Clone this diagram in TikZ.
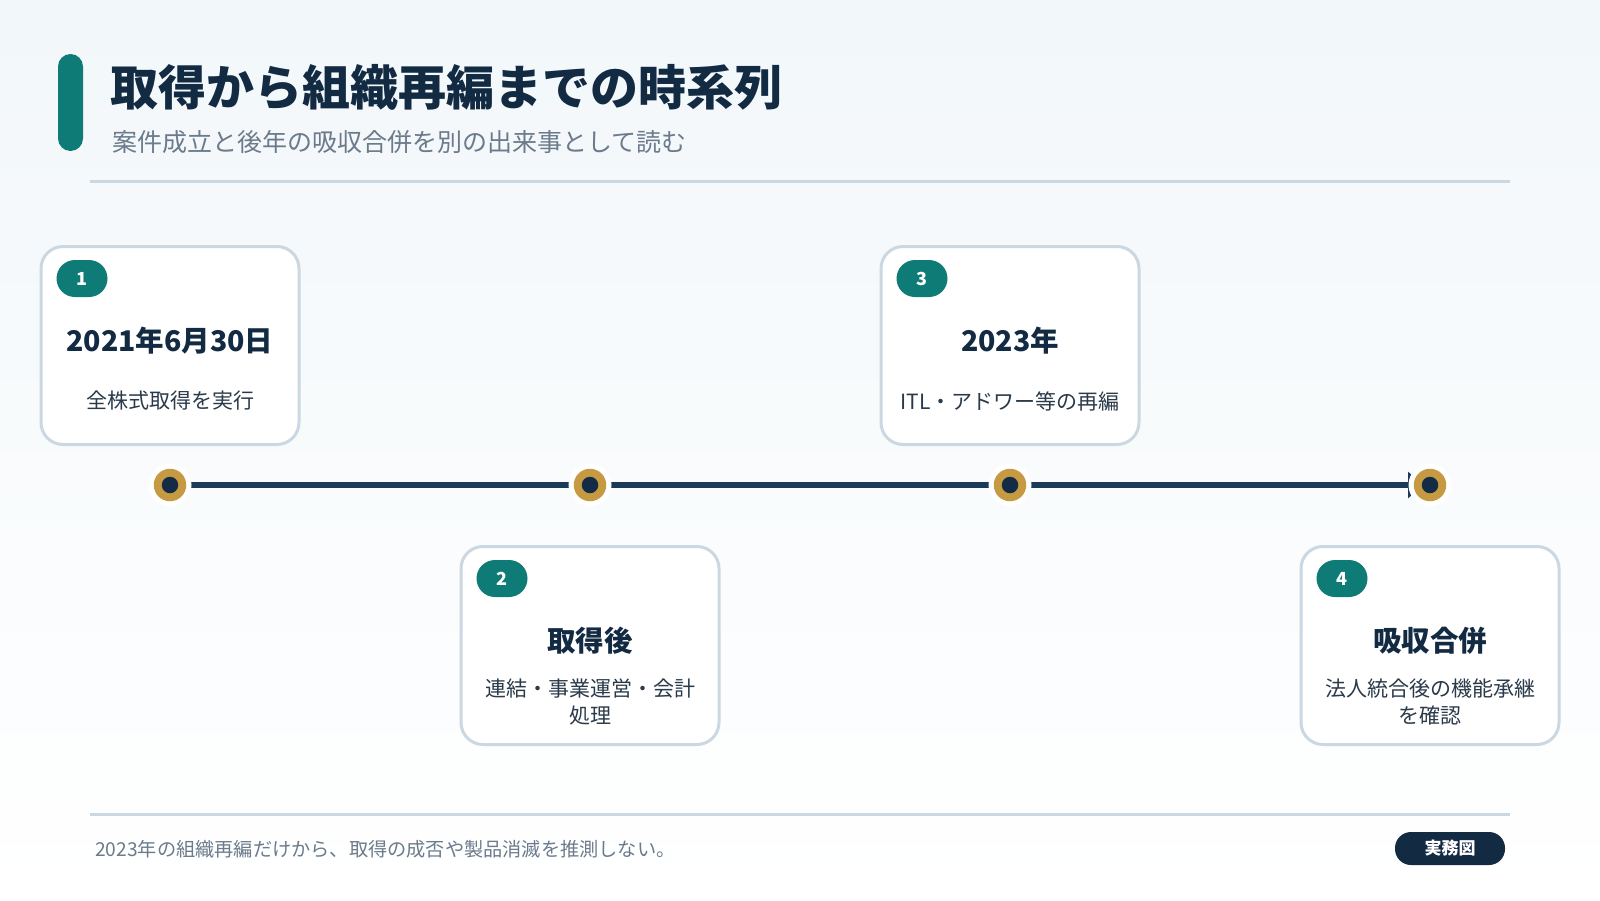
\documentclass[tikz,border=0pt]{standalone}
\usepackage{fontspec}
\setmainfont{Noto Sans CJK JP}
\usetikzlibrary{arrows.meta,calc}
\definecolor{navy}{HTML}{132A43}
\definecolor{linenavy}{HTML}{1B3A5A}
\definecolor{teal}{HTML}{0F7B76}
\definecolor{gold}{HTML}{C59A42}
\definecolor{dotnavy}{HTML}{142B45}
\definecolor{rule}{HTML}{CBD8E2}
\definecolor{subgray}{HTML}{6B7B8C}
\definecolor{desccol}{HTML}{2A3A4A}
\definecolor{bgtop}{HTML}{F2F7FA}
\begin{document}
\begin{tikzpicture}[x=1pt,y=-1pt,
  card/.style={draw=rule, line width=3pt, fill=white, rounded corners=22pt,
    minimum width=258pt, minimum height=198pt, inner sep=0pt},
  badge/.style={fill=teal, rounded corners=18.5pt, minimum width=51pt, minimum height=37pt,
    inner sep=0pt, text=white, font=\fontsize{18}{20}\selectfont\bfseries},
  ctitle/.style={text=navy, inner sep=0pt, font=\fontsize{28.5}{32}\selectfont\bfseries},
  cdesc/.style={text=desccol, inner sep=0pt, align=center, font=\fontsize{21}{26.5}\selectfont},
  halo/.style={circle, fill=white, minimum size=43pt, inner sep=0pt},
  golddot/.style={circle, fill=gold, minimum size=32.5pt, inner sep=0pt},
  navydot/.style={circle, fill=dotnavy, minimum size=16.5pt, inner sep=0pt},
  hrule/.style={draw=rule, line width=3pt},
]
% background
\shade[top color=bgtop, bottom color=white] (0,0) rectangle (1600,900);
\useasboundingbox (0,0) rectangle (1600,900);

% header
\node[fill=teal, rounded corners=12.5pt, minimum width=25pt, minimum height=97pt, inner sep=0pt] (accent) at (70.5,102.5) {};
\node[anchor=west, inner sep=0pt, text=navy, font=\fontsize{48}{56}\selectfont\bfseries] (title) at (110,87) {取得から組織再編までの時系列};
\node[anchor=west, inner sep=0pt, text=subgray, font=\fontsize{25}{30}\selectfont] (subtitle) at (112,142) {案件成立と後年の吸収合併を別の出来事として読む};
\coordinate (hr1) at (90,181);
\coordinate (hr2) at (1510,181);
\draw[hrule] (hr1) -- (hr2);

% timeline points
\coordinate (p1) at (170,485);
\coordinate (p2) at (590,485);
\coordinate (p3) at (1010,485);
\coordinate (p4) at (1430,485);
\coordinate (tipend) at (1422,485);
\draw[draw=linenavy, line width=6.5pt, -{Triangle[length=14pt,width=26pt]}] (p1) -- (tipend);

\foreach \i in {1,2,3,4}{
  \node[halo] (h\i) at (p\i) {};
  \node[golddot] (g\i) at (p\i) {};
  \node[navydot] (d\i) at (p\i) {};
}

% cards
\node[card] (c1) at (170,345.5) {};
\node[card] (c3) at (1010,345.5) {};
\node[card] (c2) at (590,645.5) {};
\node[card] (c4) at (1430,645.5) {};

\node[badge] (b1) at ($(c1.north west)+(42.5,33.5)$) {1};
\node[badge] (b2) at ($(c2.north west)+(42.5,33.5)$) {2};
\node[badge] (b3) at ($(c3.north west)+(42.5,33.5)$) {3};
\node[badge] (b4) at ($(c4.north west)+(42.5,33.5)$) {4};

\node[ctitle] (t1) at ($(c1.north)+(0,96)$) {2021年6月30日};
\node[ctitle] (t2) at ($(c2.north)+(0,96)$) {取得後};
\node[ctitle] (t3) at ($(c3.north)+(0,96)$) {2023年};
\node[ctitle] (t4) at ($(c4.north)+(0,96)$) {吸収合併};

\node[cdesc] (s1) at ($(c1.north)+(0,156)$) {全株式取得を実行};
\node[cdesc] (s2) at ($(c2.north)+(0,157)$) {連結・事業運営・会計\\処理};
\node[cdesc] (s3) at ($(c3.north)+(0,156)$) {ITL・アドワー等の再編};
\node[cdesc] (s4) at ($(c4.north)+(0,157)$) {法人統合後の機能承継\\を確認};

% footer
\coordinate (fr1) at (90,814);
\coordinate (fr2) at (1510,814);
\draw[hrule] (fr1) -- (fr2);
\node[anchor=west, inner sep=0pt, text=subgray, font=\fontsize{19.2}{23}\selectfont] (footer) at (95,849) {2023年の組織再編だけから、取得の成否や製品消滅を推測しない。};
\node[fill=navy, rounded corners=16pt, minimum width=110pt, minimum height=33pt, inner sep=0pt,
  text=white, font=\fontsize{17}{20}\selectfont\bfseries] (pill) at (1450,848.5) {実務図};
\end{tikzpicture}
\end{document}
